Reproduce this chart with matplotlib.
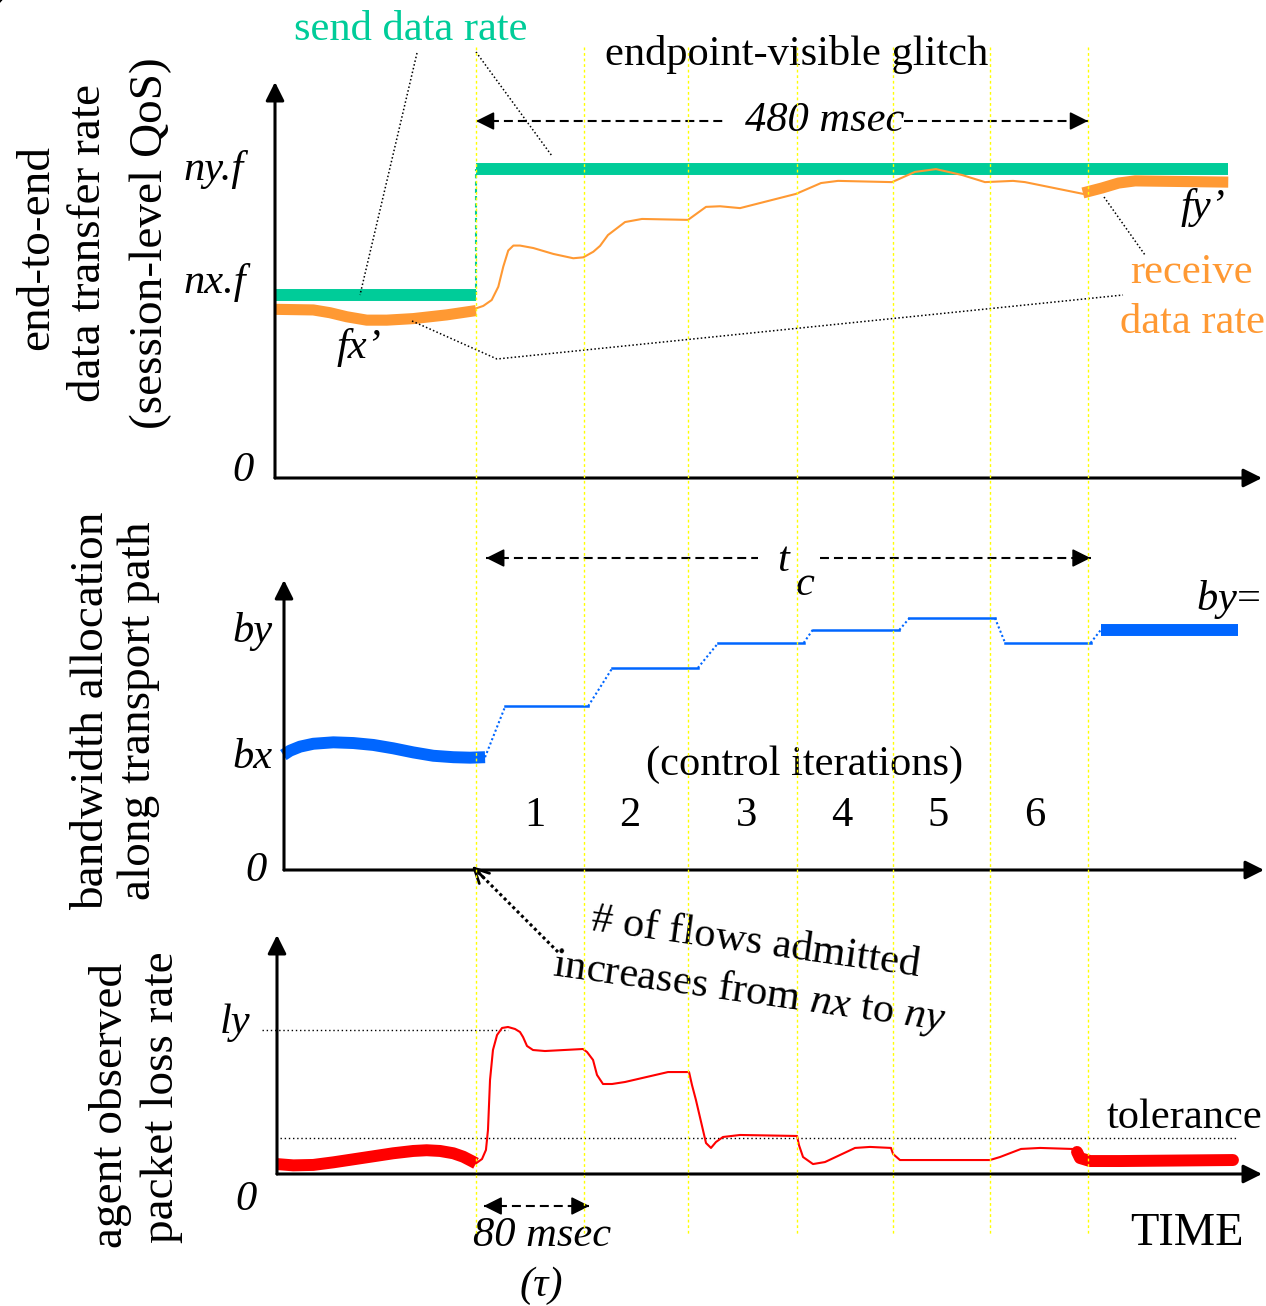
import matplotlib.pyplot as plt
from matplotlib.transforms import blended_transform_factory

plt.rcParams["font.family"] = ["Liberation Serif", "DejaVu Serif"]
plt.rcParams["mathtext.fontset"] = "custom"
plt.rcParams["mathtext.rm"] = "Liberation Serif"
plt.rcParams["mathtext.it"] = "Liberation Serif:italic"

# ---------------- data (time in msec, t=0 when # of flows changes) ----------------
iteration_edges = [0, 85, 166, 252, 327, 403, 480]
iteration_labels = ["1", "2", "3", "4", "5", "6"]

# top panel: end-to-end data rate (ny.f = 1)
nx_f = 0.59
ny_f = 1.0
send_before_t = [-158, 0]
send_after_t = [0, 590]
recv_before_t = [-157.6, -127.6, -114.5, -101.4, -85.7, -70.0, -49.2, -23.0, 0]
recv_before_v = [0.545, 0.543, 0.534, 0.521, 0.510, 0.510, 0.515, 0.527, 0.541]
recv_glitch_t = [0, 5.7, 12.3, 17.5, 21.4, 25.3, 29.3, 34.5, 45.0, 60.6, 76.3, 84.2,
                 92.0, 97.3, 103.5, 116.9, 130.2, 166.3, 180.4, 191.4, 207.1, 251.0,
                 270.6, 283.9, 326.3, 344.3, 360.8, 381.2, 399.2, 421.2, 430.6, 476.1]
recv_glitch_v = [0.548, 0.556, 0.575, 0.618, 0.683, 0.735, 0.751, 0.751, 0.743, 0.724,
                 0.710, 0.713, 0.731, 0.750, 0.785, 0.827, 0.837, 0.834, 0.876, 0.878,
                 0.872, 0.918, 0.953, 0.960, 0.956, 0.989, 0.998, 0.979, 0.956, 0.960,
                 0.956, 0.918]
recv_after_t = [476, 491, 504, 517, 590]
recv_after_v = [0.921, 0.937, 0.953, 0.960, 0.956]

# middle panel: bandwidth allocation (by = 1)
bx = 0.47
by = 1.0
bw_before_t = [-151.1, -145.9, -138.0, -127.6, -111.9, -96.2, -80.5, -64.9, -49.2,
               -33.5, -17.8, -4.7, 7.1]
bw_before_v = [0.479, 0.497, 0.514, 0.526, 0.532, 0.529, 0.521, 0.507, 0.490,
               0.476, 0.470, 0.468, 0.470]
step_start = [23, 107, 190, 264, 340, 415]
step_end = [88, 174, 257, 332, 407, 482]
step_level = [0.683, 0.842, 0.946, 1.0, 1.05, 0.946]
bw_final_t = [490, 598]

# bottom panel: packet loss rate (ly = 1)
ly = 1.0
tolerance = 0.25
loss_before_t = [-156.3, -143.3, -127.6, -111.9, -96.2, -80.5, -64.9, -49.2, -38.7,
                 -28.2, -17.8, -10.0, -3.4, 0]
loss_before_v = [0.069, 0.060, 0.063, 0.081, 0.102, 0.123, 0.144, 0.160, 0.165,
                 0.160, 0.144, 0.120, 0.090, 0.074]
loss_glitch_t = [0, 4.7, 7.8, 9.4, 11.0, 13.3, 16.5, 20.4, 25.1, 30.6, 34.5, 36.9, 40.0,
                 44.7, 54.1, 83.9, 87.1, 91.8, 94.9, 99.6, 106.7, 116.9, 150.6, 167.1,
                 169.4, 172.5, 180.4, 184.3, 188.2, 193.7, 207.1, 251.8, 253.3, 256.5,
                 264.3, 273.7, 297.3, 309.0, 325.5, 327.1, 332.5, 403.1, 411.0, 427.5,
                 442.4, 467.5, 470.6]
loss_glitch_v = [0.074, 0.104, 0.167, 0.306, 0.653, 0.861, 0.965, 1.014, 1.021, 1.007,
                 0.986, 0.951, 0.889, 0.861, 0.854, 0.868, 0.847, 0.792, 0.688, 0.625,
                 0.625, 0.639, 0.708, 0.708, 0.618, 0.514, 0.215, 0.181, 0.222, 0.257,
                 0.271, 0.264, 0.201, 0.118, 0.069, 0.083, 0.181, 0.188, 0.181, 0.139,
                 0.097, 0.097, 0.118, 0.174, 0.181, 0.174, 0.167]
loss_after_t = [471.4, 473.7, 481.6, 505.1, 593.7]
loss_after_v = [0.153, 0.111, 0.090, 0.090, 0.097]

# ---------------- layout ----------------
W, H = 1266, 1306
T0_PX = 476
PX_PER_MS = 1.275
GREEN = "#00CC99"
ORANGE = "#FF9933"
BLUE = "#0066FF"
RED = "#FF0000"
YELLOW = "#FFFF00"
FS = 30.6
FS_Y = 34

fig = plt.figure(figsize=(W / 100, H / 100), dpi=100)


def panel(left, base, top, right, v_per_px):
    ax = fig.add_axes([left / W, 1 - base / H, (right - left) / W, (base - top) / H])
    ax.set_xlim((left - T0_PX) / PX_PER_MS, (right - T0_PX) / PX_PER_MS)
    ax.set_ylim(0, (base - top) * v_per_px)
    ax.axis("off")
    head = dict(arrowstyle="-|>", mutation_scale=28, lw=2.2, color="k",
                shrinkA=0, shrinkB=0)
    ax.annotate("", xy=(1, 0), xytext=(0, 0), xycoords="axes fraction", arrowprops=head)
    ax.annotate("", xy=(0, 1), xytext=(0, 0), xycoords="axes fraction", arrowprops=head)
    return ax


ax1 = panel(275, 478, 82, 1262, 1 / 309.5)
ax2 = panel(284, 870, 580, 1264, 1 / 240)
ax3 = panel(277, 1174, 935, 1262, 1 / 144)

# top panel curves
ax1.plot(send_before_t, [nx_f] * 2, color=GREEN, lw=8.6, solid_capstyle="butt", clip_on=False)
ax1.plot(send_after_t, [ny_f] * 2, color=GREEN, lw=8.6, solid_capstyle="butt", clip_on=False)
ax1.plot([0, 0], [nx_f, ny_f], color=GREEN, lw=1.5, ls=(0, (2, 1.5)))
ax1.plot(recv_before_t, recv_before_v, color=ORANGE, lw=8, solid_capstyle="butt",
         solid_joinstyle="round", clip_on=False)
ax1.plot(recv_glitch_t, recv_glitch_v, color=ORANGE, lw=1.5, solid_joinstyle="round")
ax1.plot(recv_after_t, recv_after_v, color=ORANGE, lw=8, solid_capstyle="butt",
         solid_joinstyle="round", clip_on=False)

# middle panel curves
ax2.plot(bw_before_t, bw_before_v, color=BLUE, lw=8.6, solid_capstyle="butt",
         solid_joinstyle="round", clip_on=False)
prev_t, prev_v = bw_before_t[-1], bw_before_v[-1]
for s, e, lv in zip(step_start, step_end, step_level):
    ax2.plot([prev_t, s], [prev_v, lv], color=BLUE, lw=1.5, ls=(0, (1, 1.2)))
    ax2.plot([s, e], [lv, lv], color=BLUE, lw=1.8)
    prev_t, prev_v = e, lv
ax2.plot([prev_t, bw_final_t[0]], [prev_v, by], color=BLUE, lw=1.5, ls=(0, (1, 1.2)))
ax2.plot(bw_final_t, [by, by], color=BLUE, lw=8.6, solid_capstyle="butt", clip_on=False)

# bottom panel curves
ax3.plot([-168, 25], [ly, ly], color="k", lw=1.0, ls=(0, (1, 2)), clip_on=False)
ax3.plot([-154, 596], [tolerance, tolerance], color="k", lw=1.0, ls=(0, (1, 2)), clip_on=False)
ax3.plot(loss_before_t, loss_before_v, color=RED, lw=8.6, solid_capstyle="butt",
         solid_joinstyle="round", clip_on=False)
ax3.plot(loss_glitch_t, loss_glitch_v, color=RED, lw=1.5, solid_joinstyle="round")
ax3.plot(loss_after_t, loss_after_v, color=RED, lw=8.6, solid_capstyle="round",
         solid_joinstyle="round", clip_on=False)

# ---------------- overlay for annotations ----------------
ax0 = fig.add_axes([0, 0, 1, 1])
ax0.axis("off")
blend = blended_transform_factory(ax1.transData, ax0.transData)


def to_px(ax, t, v):
    return ax0.transData.inverted().transform(ax.transData.transform((t, v)))


def slash(ax, v):
    x0 = ax.get_xlim()[0]
    cx, cy = to_px(ax, x0, v)
    ax0.plot([cx - 11, cx + 11], [cy + 12, cy - 12], color="k", lw=1.5)


for ax, v in [(ax1, ny_f), (ax1, nx_f), (ax2, by), (ax2, bx), (ax3, ly), (ax3, loss_before_v[0])]:
    slash(ax, v)

# iteration boundaries
for t in iteration_edges:
    ax0.plot([t, t], [47, 1234], transform=blend, color=YELLOW, lw=1.0, ls=(0, (2, 2)), zorder=5)


def dashed_arrow(t1, t2, y, gap=None):
    segs = [(t1, t2)] if gap is None else [(t1, gap[0]), (gap[1], t2)]
    for a, b in segs:
        ax0.plot([a, b], [y, y], transform=blend, color="k", lw=1.5, ls=(0, (4.3, 2.4)))
    for tip, back in [(t1, t1 + 8), (t2, t2 - 8)]:
        ax0.annotate("", xy=(tip, y), xytext=(back, y), xycoords=blend, textcoords=blend,
                     arrowprops=dict(arrowstyle="-|>", mutation_scale=28, lw=1.2,
                                     color="k", shrinkA=0, shrinkB=0))


dashed_arrow(iteration_edges[0], iteration_edges[-1], 121, gap=(194, 336))
dashed_arrow(8, 482, 558, gap=(221, 270))
dashed_arrow(6, 89, 1206)

# dotted leader lines
dot = dict(color="k", lw=1.1, ls=(0, (1, 1.5)))
ax0.plot([417, 360], [53, 295], **dot)
ax0.plot([476, 552], [52, 156], **dot)
ax0.plot([412, 497, 1123], [321, 359, 295], **dot)
ax0.plot([1104, 1145], [197, 255], **dot)
ax0.plot([558, 478], [952, 872], color="k", lw=2.2, ls=(0, (1, 1)))
ax0.annotate("", xy=(472, 866), xytext=(484, 878),
             arrowprops=dict(arrowstyle="->", mutation_scale=26, lw=2, color="k",
                             shrinkA=0, shrinkB=0))

# texts
def txt(s, x, y, ha="left", size=FS, color="k", italic=False, **kw):
    ax0.text(x, y, s, ha=ha, va="baseline", fontsize=size, color=color,
             fontstyle="italic" if italic else "normal", **kw)


txt("send data rate", 411, 40, ha="center", color=GREEN)
txt("endpoint-visible glitch", 605, 65)
txt("480 msec", 745, 131, italic=True)
txt("ny.f", 183, 180, italic=True)
txt("nx.f", 183, 293, italic=True)
txt("0", 243, 481, ha="center", italic=True)
txt("fx\u2019", 337, 358, italic=True)
txt("fy\u2019", 1181, 218, italic=True)
txt("receive", 1130, 283, color=ORANGE)
txt("data rate", 1120, 333, color=ORANGE)

txt("t", 777, 571, italic=True)
txt("c", 796, 595, italic=True)
txt("by", 232, 642, italic=True)
txt("bx", 232, 768, italic=True)
txt("0", 245, 881, italic=True)
txt("$by$=", 1196, 610)
txt("(control iterations)", 805, 775, ha="center")
for lab, x in zip(iteration_labels, [535, 630, 746, 842, 938, 1035]):
    txt(lab, x, 826, ha="center")

txt("ly", 220, 1033, italic=True)
txt("0", 235, 1210, italic=True)
txt("80 msec", 473, 1246, italic=True)
txt("(\u03c4)", 541, 1296, ha="center", italic=True)
txt("TIME", 1130, 1245, size=33.5)
txt("tolerance", 1262, 1128, ha="right")

txt("# of flows admitted", 590, 930, rotation=-8, rotation_mode="anchor")
txt("increases from $nx$ to $ny$", 552, 975, rotation=-8, rotation_mode="anchor")

for s, x, y in [("end-to-end", 48, 248), ("data transfer rate", 100, 243),
                ("(session-level QoS)", 162, 243),
                ("bandwidth allocation", 103, 711), ("along transport path", 150, 711),
                ("agent observed", 122, 1105), ("packet loss rate", 173, 1097)]:
    txt(s, x, y, ha="center", size=FS_Y, rotation=90, rotation_mode="anchor")

ax0.set_xlim(0, W)
ax0.set_ylim(H, 0)

fig.savefig("out.png", dpi=100)
